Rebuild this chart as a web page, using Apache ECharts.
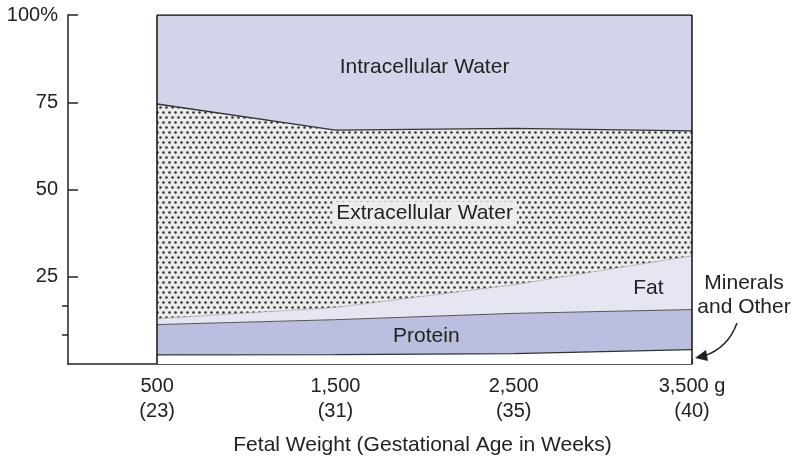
<!DOCTYPE html>
<html>
<head>
<meta charset="utf-8">
<script src="https://cdn.jsdelivr.net/npm/echarts@6/dist/echarts.min.js"></script>
<style>
  html, body { margin: 0; padding: 0; background: #fff; }
  #main { width: 795px; height: 460px; }
</style>
</head>
<body>
<div id="main"></div>
<script>
// fetal weight (g) and gestational age (weeks)
const weights = [500, 1500, 2500, 3500]
const weeks = [23, 31, 35, 40]
// body composition, % of body weight (bottom to top)
const minerals = [2.6, 2.7, 3.0, 4.1]
const protein = [8.7, 10.0, 11.5, 11.5]
const fat = [1.7, 3.5, 8.2, 15.4]
const ecw = [61.5, 50.8, 44.8, 35.8]
const icw = [25.5, 33.0, 32.5, 33.2]
const yTicks = [25, 50, 75, 100]
const yMinorTicks = [8.33, 16.67]

const font = 'Liberation Sans, Arial, sans-serif'
const ink = '#222'

// dotted fill for extracellular water
function dotPattern() {
  const c = document.createElement('canvas')
  c.width = 6
  c.height = 10
  const ctx = c.getContext('2d')
  ctx.fillStyle = '#ebebeb'
  ctx.fillRect(0, 0, 6, 10)
  ctx.fillStyle = '#333'
  ;[[1.5, 2.5], [4.5, 7.5]].forEach(function (p) {
    ctx.beginPath()
    ctx.arc(p[0], p[1], 1.3, 0, Math.PI * 2)
    ctx.fill()
  })
  return c
}

// value first, weight second, so the stack runs on the y values
function rows(vals) {
  return weights.map(function (w, i) { return [vals[i], w] })
}

function layer(name, vals, fill, line) {
  return {
    name: name,
    type: 'line',
    stack: 'body',
    symbol: 'none',
    encode: { x: 1, y: 0 },
    data: rows(vals),
    lineStyle: line,
    areaStyle: { color: fill, opacity: 1 },
    silent: true
  }
}

const myChart = echarts.init(document.getElementById('main'))

const option = {
  animation: false,
  textStyle: { fontFamily: font },
  grid: { left: 68, right: 103, top: 15, bottom: 96 },
  xAxis: {
    type: 'value',
    min: 0,
    max: 3500,
    splitLine: { show: false },
    axisLine: { lineStyle: { color: ink, width: 1.5 } },
    axisTick: { customValues: weights, inside: true, length: 5, lineStyle: { color: ink } },
    axisLabel: {
      customValues: weights,
      margin: 10,
      fontSize: 20,
      lineHeight: 25,
      color: ink,
      fontFamily: font,
      formatter: function (v) {
        const i = weights.indexOf(v)
        const w = v.toLocaleString('en-US') + (i === weights.length - 1 ? ' g' : '')
        return w + '\n(' + weeks[i] + ')'
      }
    }
  },
  yAxis: [
    {
      type: 'value',
      min: 0,
      max: 100,
      interval: 25,
      splitLine: { show: false },
      axisLine: { show: true, lineStyle: { color: ink, width: 1.5 } },
      axisTick: { customValues: yTicks, inside: true, length: 10, lineStyle: { color: ink, width: 1.5 } },
      axisLabel: {
        customValues: yTicks,
        margin: 10,
        fontSize: 20,
        color: ink,
        fontFamily: font,
        formatter: function (v) { return v === 100 ? '100%' : String(v) }
      }
    },
    {
      type: 'value',
      min: 0,
      max: 100,
      position: 'left',
      splitLine: { show: false },
      axisLine: { show: false },
      axisTick: { customValues: yMinorTicks, length: 6, lineStyle: { color: ink, width: 1.5 } },
      axisLabel: { show: false }
    }
  ],
  series: [
    layer('Minerals and Other', minerals, '#ffffff', { color: '#333', width: 1.2 }),
    layer('Protein', protein, '#bcbee0', { color: '#555', width: 1 }),
    layer('Fat', fat, '#e6e6f3', { color: '#999', width: 0.6 }),
    layer('Extracellular Water', ecw, { image: dotPattern(), repeat: 'repeat' }, { color: '#333', width: 1.3 }),
    Object.assign(layer('Intracellular Water', icw, '#d3d4ea', { color: '#111', width: 1.5 }), {
      markLine: {
        silent: true,
        symbol: 'none',
        label: { show: false },
        lineStyle: { type: 'solid', color: '#111', width: 1.5 },
        data: [{ xAxis: weights[0] }, { xAxis: weights[weights.length - 1] }]
      }
    })
  ]
}

myChart.setOption(option)

// text annotations placed in data space
const notes = [
  { text: 'Intracellular Water', at: [2000, 85] },
  { text: 'Extracellular Water', at: [2000, 43.3], halo: true },
  { text: 'Fat', at: [3255, 21.6] },
  { text: 'Protein', at: [2010, 8.0] }
]

function label(x, y, text, extra) {
  return {
    type: 'text',
    x: x,
    y: y,
    z: 100,
    silent: true,
    style: Object.assign({ text: text, fill: ink, font: '21px ' + font, align: 'center', verticalAlign: 'middle' }, extra || {})
  }
}

const graphic = notes.map(function (n) {
  const p = myChart.convertToPixel({ gridIndex: 0 }, n.at)
  return label(p[0], p[1], n.text, n.halo ? { backgroundColor: '#ececec', padding: [1, 4] } : null)
})

const mid = myChart.convertToPixel({ gridIndex: 0 }, [2000, 0])
graphic.push(label(mid[0] - 2, 445, 'Fetal Weight (Gestational Age in Weeks)'))

// callout for the thin minerals band
graphic.push(label(744, 295, 'Minerals\nand Other', { lineHeight: 24 }))
graphic.push({
  type: 'bezierCurve',
  z: 100,
  silent: true,
  shape: { x1: 737, y1: 323, cpx1: 728, cpy1: 348, x2: 704, y2: 356 },
  style: { stroke: ink, lineWidth: 1.5, fill: null }
})
graphic.push({
  type: 'polygon',
  z: 100,
  silent: true,
  shape: { points: [[695, 358], [706, 350], [708, 361]] },
  style: { fill: ink }
})

myChart.setOption({ graphic: graphic })
</script>
</body>
</html>
